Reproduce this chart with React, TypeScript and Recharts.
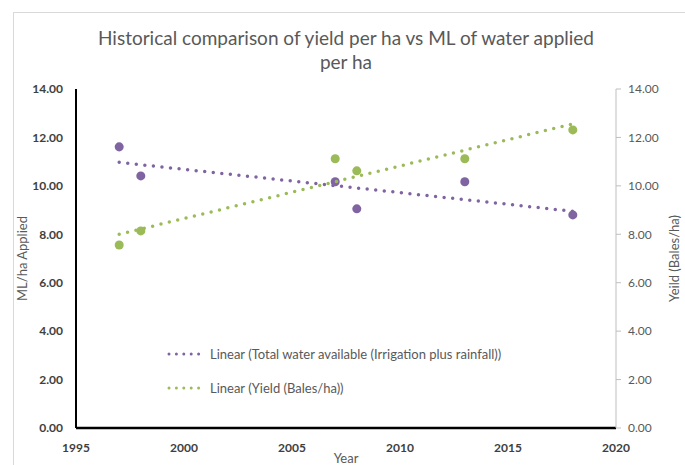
import React from "react";
import { ScatterChart, Scatter, XAxis, YAxis, Label } from "recharts";

const years = [1997, 1998, 2007, 2008, 2013, 2018];
const waterApplied = [11.61, 10.41, 10.17, 9.05, 10.17, 8.8];
const yieldBales = [7.56, 8.14, 11.12, 10.62, 11.12, 12.31];
const trendYears = [1997, 2018];
const waterTrend = [10.97, 8.95];
const yieldTrend = [8.0, 12.56];
const xTicks = [1995, 2000, 2005, 2010, 2015, 2020];
const yTicks = [0, 2, 4, 6, 8, 10, 12, 14];

const PURPLE = "#8064A2";
const GREEN = "#9BBB59";
const FONT = "Lato, 'Open Sans', sans-serif";

const waterData = years.map((year, i) => ({ year, value: waterApplied[i] }));
const yieldData = years.map((year, i) => ({ year, value: yieldBales[i] }));
const waterTrendData = trendYears.map((year, i) => ({ year, value: waterTrend[i] }));
const yieldTrendData = trendYears.map((year, i) => ({ year, value: yieldTrend[i] }));

const legendItems = [
  { label: "Linear (Total water available (Irrigation plus rainfall))", color: PURPLE },
  { label: "Linear (Yield (Bales/ha))", color: GREEN },
];

const NoShape = () => <g />;

const dotted = (color: string) => ({
  stroke: color,
  strokeWidth: 3.5,
  strokeDasharray: "0 8.6",
  strokeLinecap: "round" as const,
});

export default function App() {
  return (
    <div
      style={{
        position: "absolute",
        left: 0,
        top: 0,
        width: 685,
        height: 465,
        background: "#fff",
        fontFamily: FONT,
        overflow: "hidden",
      }}
    >
      <div
        style={{
          position: "absolute",
          left: 13,
          top: 12,
          width: 700,
          height: 480,
          border: "1px solid #d9d9d9",
        }}
      />
      <div
        style={{
          position: "absolute",
          left: 0,
          top: 26,
          width: 692,
          textAlign: "center",
          fontSize: 19,
          lineHeight: "24px",
          color: "#595959",
        }}
      >
        Historical comparison of yield per ha vs ML of water applied
        <br />
        per ha
      </div>
      <ScatterChart
        width={685}
        height={465}
        margin={{ top: 89, right: 0, bottom: 0, left: 0 }}
        style={{ position: "absolute", left: 0, top: 0 }}
      >
        <XAxis
          type="number"
          dataKey="year"
          domain={[1995, 2020]}
          ticks={xTicks}
          interval={0}
          height={37}
          tickLine={false}
          tickMargin={9}
          axisLine={{ stroke: "#000", strokeWidth: 2.5 }}
          tick={{ fill: "#404040", fontSize: 12, fontWeight: 700, fontFamily: FONT }}
        >
          <Label
            value="Year"
            position="center"
            dy={12}
            style={{ fill: "#595959", fontSize: 13, fontFamily: FONT }}
          />
        </XAxis>
        <YAxis
          yAxisId="left"
          type="number"
          dataKey="value"
          domain={[0, 14]}
          ticks={yTicks}
          interval={0}
          width={76}
          tickLine={false}
          tickSize={6}
          tickMargin={7}
          tickFormatter={(v: number) => v.toFixed(2)}
          axisLine={{ stroke: "#000", strokeWidth: 2 }}
          tick={{ fill: "#404040", fontSize: 12, fontWeight: 700, fontFamily: FONT }}
        >
          <Label
            value="ML/ha Applied"
            angle={-90}
            position="center"
            dx={-16}
            style={{ fill: "#595959", fontSize: 13, fontFamily: FONT, textAnchor: "middle" }}
          />
        </YAxis>
        <YAxis
          yAxisId="right"
          orientation="right"
          type="number"
          dataKey="value"
          domain={[0, 14]}
          ticks={yTicks}
          interval={0}
          width={69}
          tickSize={5}
          tickMargin={7}
          tickFormatter={(v: number) => v.toFixed(2)}
          axisLine={{ stroke: "#bfbfbf", strokeWidth: 1 }}
          tickLine={{ stroke: "#bfbfbf" }}
          tick={{ fill: "#595959", fontSize: 12, fontFamily: FONT }}
        >
          <Label
            value="Yeild (Bales/ha)"
            angle={-90}
            position="center"
            dx={24}
            style={{ fill: "#595959", fontSize: 13, fontFamily: FONT, textAnchor: "middle" }}
          />
        </YAxis>
        <Scatter
          yAxisId="left"
          data={waterData}
          fill={PURPLE}
          isAnimationActive={false}
        />
        <Scatter
          yAxisId="right"
          data={yieldData}
          fill={GREEN}
          isAnimationActive={false}
        />
        <Scatter
          yAxisId="right"
          data={yieldTrendData}
          line={dotted(GREEN)}
          shape={NoShape}
          isAnimationActive={false}
        />
        <Scatter
          yAxisId="left"
          data={waterTrendData}
          line={dotted(PURPLE)}
          shape={NoShape}
          isAnimationActive={false}
        />
      </ScatterChart>
      {legendItems.map((item, i) => (
        <div
          key={item.label}
          style={{
            position: "absolute",
            left: 165,
            top: 345 + i * 34,
            display: "flex",
            alignItems: "center",
            fontSize: 13,
            color: "#595959",
            whiteSpace: "nowrap",
          }}
        >
          <svg width={43} height={18}>
            <line x1={4} y1={9} x2={41} y2={9} {...dotted(item.color)} strokeWidth={3} strokeDasharray="0 7.4" />
          </svg>
          <span style={{ marginLeft: 2 }}>{item.label}</span>
        </div>
      ))}
    </div>
  );
}
